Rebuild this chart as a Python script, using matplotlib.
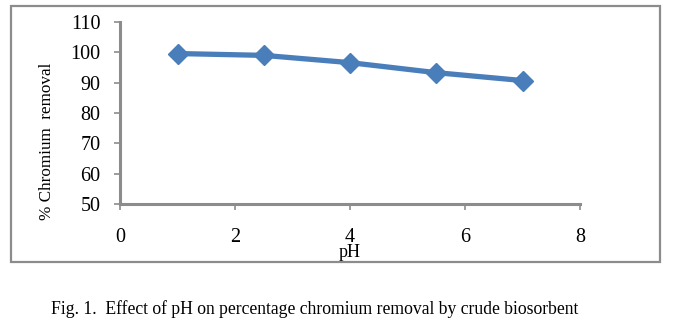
import matplotlib.pyplot as plt
from matplotlib.patches import Rectangle

ph = [1, 2.5, 4, 5.5, 7]
removal = [99.6, 99.0, 96.6, 93.3, 90.7]
xticks = [0, 2, 4, 6, 8]
yticks = [50, 60, 70, 80, 90, 100, 110]

plt.rcParams['font.family'] = ['Liberation Serif', 'DejaVu Serif']

fig = plt.figure(figsize=(6.74, 3.25), dpi=100)
fig.patches.append(Rectangle((11 / 674, 1 - 262 / 325), (660 - 11) / 674, (262 - 6.5) / 325,
                             transform=fig.transFigure, fill=False,
                             edgecolor='#8c8c8c', linewidth=1.6))

ax = fig.add_axes([120 / 674, 1 - 204 / 325, 460 / 674, 182 / 325])
ax.plot(ph, removal, color='#4a7ebb', linewidth=3.8, marker='D', markersize=10,
        markerfacecolor='#4a7ebb', markeredgecolor='#4a7ebb')

ax.set_xlim(0, 8)
ax.set_ylim(50, 110)
ax.set_xticks(xticks)
ax.set_yticks(yticks)

for side in ['top', 'right']:
    ax.spines[side].set_visible(False)
for side in ['left', 'bottom']:
    ax.spines[side].set_color('#8c8c8c')
    ax.spines[side].set_linewidth(2.2)

ax.tick_params(axis='both', colors='#8c8c8c', labelcolor='black', length=4, width=1.2,
               labelsize=14.5)
ax.tick_params(axis='x', pad=13)
ax.tick_params(axis='y', pad=10)

ax.set_xlabel('pH', fontsize=13, labelpad=-2)
ax.set_ylabel('% Chromium  removal', fontsize=12.3)
ax.yaxis.set_label_coords(-0.141, 0.346)

fig.text(0.467, 1 - 309 / 325, 'Fig. 1.  Effect of pH on percentage chromium removal by crude biosorbent',
         ha='center', va='center', fontsize=12.7)

fig.savefig('out.png', dpi=100)
